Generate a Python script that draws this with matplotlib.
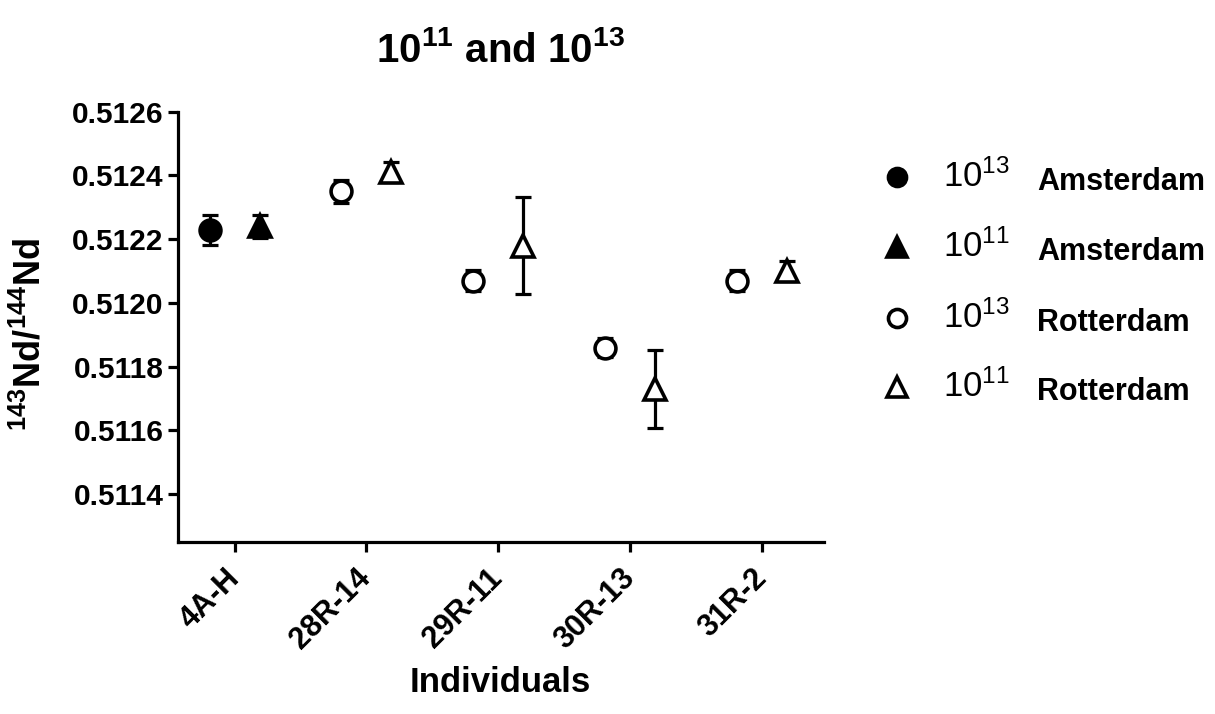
import matplotlib
matplotlib.use("Agg")
import matplotlib.pyplot as plt
from matplotlib.lines import Line2D
import numpy as np

plt.rcParams['font.family'] = ['Liberation Sans', 'DejaVu Sans']
plt.rcParams['mathtext.fontset'] = 'custom'
plt.rcParams['mathtext.rm'] = 'Liberation Sans'
plt.rcParams['mathtext.bf'] = 'Liberation Sans:bold'

# ---- data ----
categories = ['4A-H', '28R-14', '29R-11', '30R-13', '31R-2']
ams13_cats = ['4A-H']
ams13_vals = [0.51223]
ams13_err = [0.000047]
ams11_cats = ['4A-H']
ams11_vals = [0.51224]
ams11_err = [0.000035]
rot13_cats = ['28R-14', '29R-11', '30R-13', '31R-2']
rot13_vals = [0.51235, 0.51207, 0.51186, 0.51207]
rot13_err = [0.000035, 0.000032, 0.000030, 0.000032]
rot11_cats = ['28R-14', '29R-11', '30R-13', '31R-2']
rot11_vals = [0.51241, 0.51218, 0.51173, 0.51210]
rot11_err = [0.000032, 0.000152, 0.000123, 0.000032]
yticks = [0.5114, 0.5116, 0.5118, 0.5120, 0.5122, 0.5124, 0.5126]

fig = plt.figure(figsize=(12.15, 7.14), dpi=100)
ax = fig.add_axes([0.1465, 0.241, 0.5315, 0.6025])

off = 0.19
idx = {c: i for i, c in enumerate(categories)}

def plot_series(cats, vals, errs, dx, marker, filled):
    x = np.array([idx[c] for c in cats]) + dx
    ax.errorbar(x, vals, yerr=errs, fmt='none', ecolor='black', elinewidth=2.3,
                capsize=6, capthick=2.3, zorder=2)
    ax.plot(x, vals, linestyle='none', marker=marker, markersize=15 if marker == 'o' else 16,
            markerfacecolor='black' if filled else 'white', markeredgecolor='black',
            markeredgewidth=2.6, zorder=3)

plot_series(ams13_cats, ams13_vals, ams13_err, -off, 'o', True)
plot_series(ams11_cats, ams11_vals, ams11_err, off, '^', True)
plot_series(rot13_cats, rot13_vals, rot13_err, -off, 'o', False)
plot_series(rot11_cats, rot11_vals, rot11_err, off, '^', False)

ax.set_xlim(-0.43, 4.47)
ax.set_ylim(0.51125, 0.5126)
ax.set_yticks(yticks)
ax.set_yticklabels([f"{v:.4f}" for v in yticks])
ax.set_xticks(range(len(categories)))
ax.set_xticklabels(categories, rotation=45, ha='right', va='center', rotation_mode='anchor')

for s in ['top', 'right']:
    ax.spines[s].set_visible(False)
for s in ['left', 'bottom']:
    ax.spines[s].set_linewidth(2.3)
ax.spines['left'].set_bounds(0.51125, 0.5126)
ax.tick_params(axis='both', width=2.3, length=7, direction='out')
ax.tick_params(axis='y', labelsize=21.5)
ax.tick_params(axis='x', labelsize=22, pad=16)
for lab in ax.get_xticklabels() + ax.get_yticklabels():
    lab.set_fontweight('bold')

fig.text(0.412, 1 - 50 / 714, r'$\mathregular{10^{11}}$ and $\mathregular{10^{13}}$',
         ha='center', va='center', fontsize=29, fontweight='bold')
fig.text(0.412, 1 - 683 / 714, 'Individuals', ha='center', va='center',
         fontsize=25, fontweight='bold')
fig.text(30 / 1215, 1 - 335 / 714, r'$\mathregular{^{143}Nd/^{144}Nd}$', rotation=90,
         ha='center', va='center', fontsize=26, fontweight='bold')

# legend (manual)
leg_rows = [('o', True, '13', 'Amsterdam'),
            ('^', True, '11', 'Amsterdam'),
            ('o', False, '13', 'Rotterdam'),
            ('^', False, '11', 'Rotterdam')]
row_y = [177, 247, 318, 387]
for (m, filled, exp, city), yp in zip(leg_rows, row_y):
    yf = 1 - yp / 714
    fig.add_artist(Line2D([897 / 1215], [yf], transform=fig.transFigure, linestyle='none',
                          marker=m, markersize=13 if m == 'o' else 14,
                          markerfacecolor='black' if filled else 'white',
                          markeredgecolor='black', markeredgewidth=2.6))
    fig.text(943 / 1215, yf, r'$\mathregular{10^{%s}}$' % exp, ha='left', va='center',
             fontsize=25)
    fig.text(1037 / 1215, yf - 0.007, city, ha='left', va='center', fontsize=22,
             fontweight='bold')

fig.savefig('out.png', dpi=100)
